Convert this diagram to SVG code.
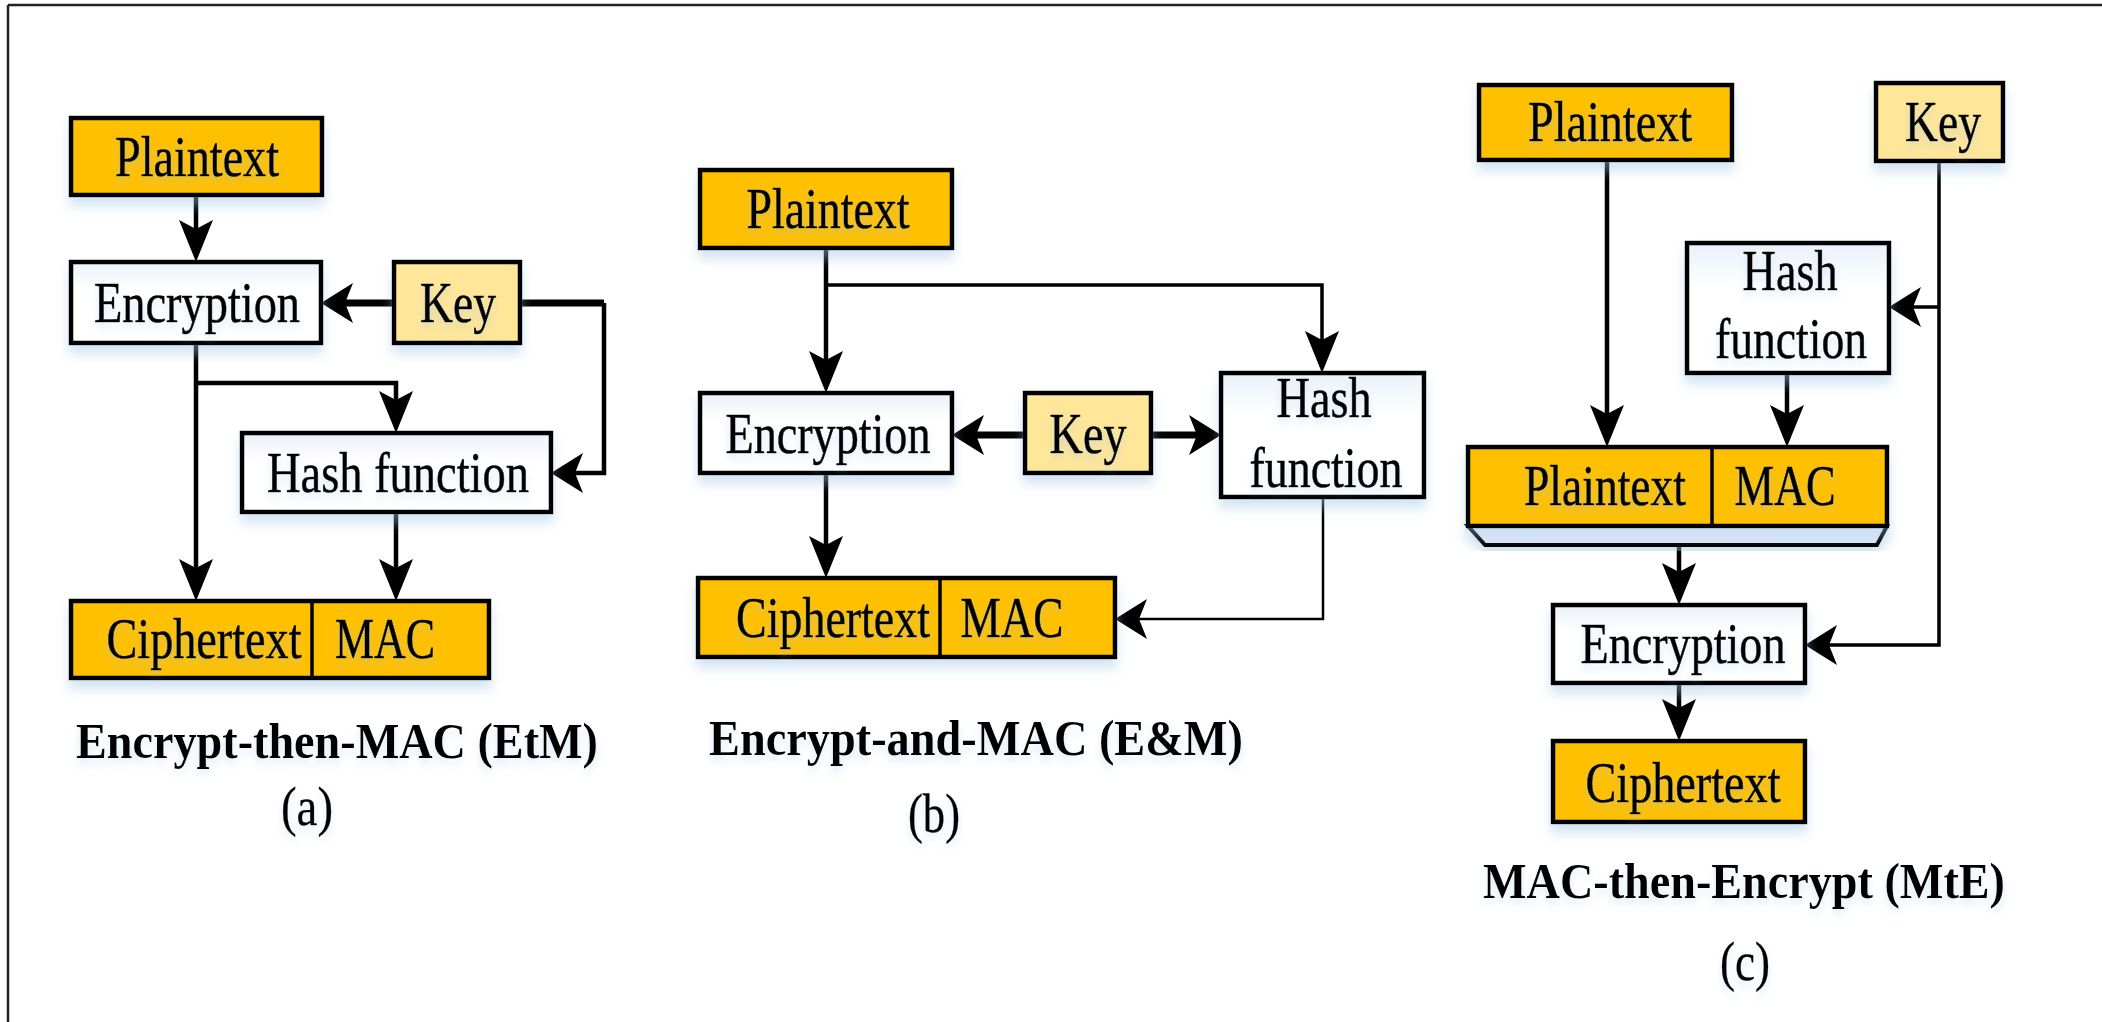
<svg xmlns="http://www.w3.org/2000/svg" width="2102" height="1022" viewBox="0 0 2102 1022">
<style>
.box{stroke:#000;stroke-width:4.5;filter:url(#sh)}
.org{fill:#FFC000}
.key{fill:#FFE699}
.wht{fill:url(#wg)}
.lbl{font-family:"Liberation Serif","Times New Roman",serif;font-size:56px;fill:#000;stroke:#000;stroke-width:0.6;text-anchor:middle;filter:url(#tsh)}
.ttl{font-family:"Liberation Serif","Times New Roman",serif;font-size:51px;font-weight:bold;fill:#000;text-anchor:middle;filter:url(#tsh)}
.sub{font-family:"Liberation Serif","Times New Roman",serif;font-size:55px;fill:#000;stroke:#000;stroke-width:0.4;text-anchor:middle;filter:url(#tsh)}
.c{fill:none;stroke:#000;stroke-width:4.5}
.cv{marker-end:url(#av)}
.ch{marker-end:url(#ah)}
.thick{stroke-width:7}
.thin{stroke-width:2.5}
.mid{stroke-width:3.5}
</style>
<defs>
<linearGradient id="wg" x1="0" y1="0" x2="0" y2="1">
<stop offset="0" stop-color="#eaf1fa"/>
<stop offset="0.35" stop-color="#ffffff"/>
<stop offset="1" stop-color="#ffffff"/>
</linearGradient>
<linearGradient id="tg" x1="0" y1="0" x2="0" y2="1">
<stop offset="0" stop-color="#f4f8fc"/>
<stop offset="1" stop-color="#d6e4f3"/>
</linearGradient>
<filter id="sh" x="-10%" y="-10%" width="120%" height="140%">
<feDropShadow dx="0" dy="9" stdDeviation="6" flood-color="#9dc3e6" flood-opacity="0.45"/>
</filter>
<filter id="tsh" x="-5%" y="-20%" width="110%" height="160%">
<feDropShadow dx="0" dy="6" stdDeviation="4" flood-color="#9dc3e6" flood-opacity="0.35"/>
</filter>
<marker id="av" viewBox="-48 -22 54 44" refX="-20" refY="0" markerWidth="54" markerHeight="44" markerUnits="userSpaceOnUse" orient="auto" overflow="visible">
<path d="M0,0 L-42,-17 L-33,0 L-42,17 Z" fill="#000"/>
</marker>
<marker id="ah" viewBox="-45 -25 50 50" refX="-20" refY="0" markerWidth="50" markerHeight="50" markerUnits="userSpaceOnUse" orient="auto" overflow="visible">
<path d="M0,0 L-32,-20 L-24,0 L-32,20 Z" fill="#000"/>
</marker>
</defs>
<rect x="0" y="0" width="2102" height="1022" fill="#fff"/>
<path d="M8,5 H2102 M8,5 V1022" fill="none" stroke="#222" stroke-width="2.5"/>

<g id="connectors">
<!-- panel a -->
<path class="c cv" d="M196,196 V242"/>
<path class="c ch thick" d="M394,303 H341"/>
<path class="c thick" d="M520,303 H604"/>
<path class="c ch" d="M604,303 V473 H571"/>
<path class="c cv" d="M196,343 V581"/>
<path class="c cv" d="M196,383 H396 V413"/>
<path class="c cv" d="M396,512 V581"/>
<!-- panel b -->
<path class="c cv" d="M826,248 V373"/>
<path class="c cv mid" d="M826,285 H1322 V353"/>
<path class="c ch thick" d="M1025,435 H972"/>
<path class="c ch thick" d="M1151,435 H1201"/>
<path class="c cv" d="M826,473 V558"/>
<path class="c ch thin" d="M1323,497 V619 H1135"/>
<!-- panel c -->
<path class="c cv" d="M1607,160 V427"/>
<path class="c ch mid" d="M1939,161 V645 H1825"/>
<path class="c ch mid" d="M1939,307 H1909"/>
<path class="c cv" d="M1787,373 V427"/>
<path class="c cv" d="M1679,545 V585"/>
<path class="c cv" d="M1679,683 V721"/>
</g>

<!-- Panel (a) -->
<g id="a-plaintext"><rect class="box org" x="71" y="118" width="251" height="77"/><text class="lbl" x="197" y="176" textLength="164" lengthAdjust="spacingAndGlyphs">Plaintext</text></g>
<g id="a-encryption"><rect class="box wht" x="71" y="262" width="250" height="81"/><text class="lbl" x="197" y="322" textLength="206" lengthAdjust="spacingAndGlyphs">Encryption</text></g>
<g id="a-key"><rect class="box key" x="394" y="262" width="126" height="81"/><text class="lbl" x="458" y="322" textLength="76" lengthAdjust="spacingAndGlyphs">Key</text></g>
<g id="a-hash"><rect class="box wht" x="242" y="433" width="309" height="79"/><text class="lbl" x="398" y="492" textLength="262" lengthAdjust="spacingAndGlyphs">Hash function</text></g>
<g id="a-ciphertext-mac"><rect class="box org" x="71" y="601" width="418" height="77"/><line x1="312" y1="601" x2="312" y2="678" stroke="#000" stroke-width="3.5"/><text class="lbl" x="204" y="658" textLength="195" lengthAdjust="spacingAndGlyphs">Ciphertext</text><text class="lbl" x="385" y="658" textLength="100" lengthAdjust="spacingAndGlyphs">MAC</text></g>
<g id="a-caption"><text class="ttl" x="337" y="758" textLength="522" lengthAdjust="spacingAndGlyphs">Encrypt-then-MAC (EtM)</text><text class="sub" x="307" y="825" textLength="52" lengthAdjust="spacingAndGlyphs">(a)</text></g>

<!-- Panel (b) -->
<g id="b-plaintext"><rect class="box org" x="700" y="170" width="252" height="78"/><text class="lbl" x="828" y="228" textLength="163" lengthAdjust="spacingAndGlyphs">Plaintext</text></g>
<g id="b-encryption"><rect class="box wht" x="700" y="393" width="252" height="80"/><text class="lbl" x="828" y="453" textLength="205" lengthAdjust="spacingAndGlyphs">Encryption</text></g>
<g id="b-key"><rect class="box key" x="1025" y="393" width="126" height="80"/><text class="lbl" x="1088" y="453" textLength="77" lengthAdjust="spacingAndGlyphs">Key</text></g>
<g id="b-hash"><rect class="box wht" x="1221" y="373" width="203" height="124"/><text class="lbl" x="1324" y="417" textLength="95" lengthAdjust="spacingAndGlyphs">Hash</text><text class="lbl" x="1326" y="487" textLength="153" lengthAdjust="spacingAndGlyphs">function</text></g>
<g id="b-ciphertext-mac"><rect class="box org" x="698" y="578" width="417" height="79"/><line x1="940" y1="578" x2="940" y2="657" stroke="#000" stroke-width="3.5"/><text class="lbl" x="833" y="637" textLength="194" lengthAdjust="spacingAndGlyphs">Ciphertext</text><text class="lbl" x="1012" y="637" textLength="103" lengthAdjust="spacingAndGlyphs">MAC</text></g>
<g id="b-caption"><text class="ttl" x="976" y="755" textLength="534" lengthAdjust="spacingAndGlyphs">Encrypt-and-MAC (E&amp;M)</text><text class="sub" x="934" y="832" textLength="52" lengthAdjust="spacingAndGlyphs">(b)</text></g>

<!-- Panel (c) -->
<g id="c-plaintext"><rect class="box org" x="1479" y="85" width="253" height="75"/><text class="lbl" x="1610" y="141" textLength="164" lengthAdjust="spacingAndGlyphs">Plaintext</text></g>
<g id="c-key"><rect class="box key" x="1876" y="83" width="127" height="78"/><text class="lbl" x="1943" y="141" textLength="76" lengthAdjust="spacingAndGlyphs">Key</text></g>
<g id="c-hash"><rect class="box wht" x="1687" y="243" width="202" height="130"/><text class="lbl" x="1790" y="290" textLength="95" lengthAdjust="spacingAndGlyphs">Hash</text><text class="lbl" x="1791" y="358" textLength="152" lengthAdjust="spacingAndGlyphs">function</text></g>
<g id="c-plaintext-mac"><path d="M1468,526 H1887 L1877,545 H1485 Z" fill="url(#tg)" stroke="#000" stroke-width="4" stroke-linejoin="miter" filter="url(#sh)"/><rect class="box org" x="1468" y="447" width="419" height="79"/><line x1="1712" y1="447" x2="1712" y2="526" stroke="#000" stroke-width="3.5"/><text class="lbl" x="1605" y="505" textLength="162" lengthAdjust="spacingAndGlyphs">Plaintext</text><text class="lbl" x="1785" y="505" textLength="101" lengthAdjust="spacingAndGlyphs">MAC</text></g>
<g id="c-encryption"><rect class="box wht" x="1553" y="605" width="252" height="78"/><text class="lbl" x="1683" y="663" textLength="205" lengthAdjust="spacingAndGlyphs">Encryption</text></g>
<g id="c-ciphertext"><rect class="box org" x="1553" y="741" width="252" height="81"/><text class="lbl" x="1683" y="802" textLength="195" lengthAdjust="spacingAndGlyphs">Ciphertext</text></g>
<g id="c-caption"><text class="ttl" x="1744" y="898" textLength="522" lengthAdjust="spacingAndGlyphs">MAC-then-Encrypt (MtE)</text><text class="sub" x="1745" y="980" textLength="50" lengthAdjust="spacingAndGlyphs">(c)</text></g>
</svg>
